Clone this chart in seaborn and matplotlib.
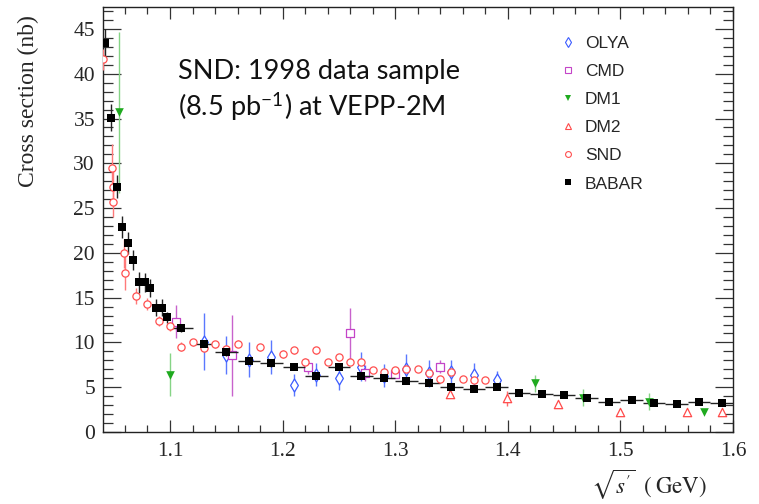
import numpy as np
import pandas as pd
import matplotlib
matplotlib.use("Agg")
import matplotlib.pyplot as plt
from matplotlib.lines import Line2D
from matplotlib.ticker import MultipleLocator
import seaborn as sns

# ---- measurements: e+e- -> pi+pi-pi0 cross section (nb) vs sqrt(s') (GeV) ----
babar_x = [1.0425, 1.0475, 1.0525, 1.0575, 1.0625, 1.0675, 1.0725, 1.0775, 1.0825,
           1.0875, 1.0925, 1.0975, 1.11, 1.13, 1.15, 1.17, 1.19, 1.21, 1.23, 1.25,
           1.27, 1.29, 1.31, 1.33, 1.35, 1.37, 1.39, 1.41, 1.43, 1.45, 1.47, 1.49,
           1.51, 1.53, 1.55, 1.57, 1.59]
babar_y = [43.4, 35.1, 27.4, 22.9, 21.1, 19.2, 16.7, 16.7, 16.1, 13.9, 13.9, 12.8,
           11.6, 9.85, 8.9, 7.95, 7.65, 7.3, 6.3, 7.3, 6.25, 6.0, 5.7, 5.5, 5.0,
           4.75, 5.0, 4.3, 4.2, 4.1, 3.75, 3.4, 3.55, 3.2, 3.1, 3.3, 3.2]
babar_yerr = [1.6, 1.5, 1.3, 1.25, 1.2, 1.1, 1.2, 1.1, 1.0, 0.9, 0.9, 0.65, 0.45,
              0.45, 0.4, 0.4, 0.35, 0.35, 0.35, 0.35, 0.3, 0.3, 0.3, 0.3, 0.25,
              0.25, 0.25, 0.2, 0.2, 0.2, 0.2, 0.2, 0.2, 0.2, 0.2, 0.2, 0.2]
babar_xerr = [0.0025] * 12 + [0.01] * 25

snd_x = [1.0405, 1.0485, 1.049, 1.0495, 1.0595, 1.0598, 1.07, 1.08, 1.09, 1.10,
         1.11, 1.12, 1.13, 1.14, 1.15, 1.16, 1.18, 1.20, 1.21, 1.22, 1.23, 1.24,
         1.25, 1.26, 1.27, 1.28, 1.29, 1.30, 1.31, 1.32, 1.33, 1.34, 1.35, 1.36,
         1.37, 1.38]
snd_y = [41.6, 29.5, 27.4, 25.7, 19.95, 17.7, 15.2, 14.3, 12.4, 11.8, 9.5, 10.0,
         9.4, 9.8, 9.25, 9.85, 9.45, 8.7, 9.1, 7.85, 9.1, 7.8, 8.35, 7.8, 7.85,
         6.95, 6.65, 6.95, 7.05, 7.0, 6.55, 5.95, 6.65, 5.95, 5.8, 5.8]
snd_yerr = [1.2, 2.6, 2.0, 1.7, 1.6, 1.9, 0.9, 0.7, 0.6, 0.5, 0.5, 0.4, 0.4, 0.4,
            0.4, 0.4, 0.4, 0.4, 0.4, 0.4, 0.4, 0.35, 0.35, 0.35, 0.35, 0.3, 0.3,
            0.3, 0.3, 0.3, 0.3, 0.3, 0.3, 0.3, 0.3, 0.3]

olya_x = [1.13, 1.15, 1.17, 1.19, 1.21, 1.23, 1.25, 1.27, 1.29, 1.31, 1.33, 1.35,
          1.37, 1.39]
olya_y = [10.1, 8.6, 8.05, 8.35, 5.25, 6.4, 6.05, 7.3, 6.3, 7.05, 6.55, 6.65, 6.35,
          5.85]
olya_yerr = [3.2, 2.1, 1.95, 1.9, 1.2, 1.3, 1.4, 1.6, 1.3, 1.7, 1.5, 1.4, 1.3, 1.0]

cmd_x = [1.105, 1.155, 1.2225, 1.26, 1.273, 1.30, 1.34]
cmd_y = [12.3, 8.55, 7.3, 11.0, 6.55, 6.5, 7.3]
cmd_yerr = [1.85, 4.5, 0.8, 2.9, 0.9, 0.5, 0.75]

dm1_x = [1.055, 1.0996, 1.424, 1.467, 1.525, 1.574]
dm1_y = [35.7, 6.4, 5.45, 3.8, 3.4, 2.2]
dm1_yerr = [9.0, 2.4, 0.93, 0.95, 0.9, 0.0]

dm2_x = [1.349, 1.399, 1.445, 1.4996, 1.5594, 1.59]
dm2_y = [4.2, 3.75, 3.15, 2.25, 2.2, 2.2]
dm2_yerr = [0.4, 0.85, 0.3, 0.3, 0.3, 0.3]

legend_labels = ["OLYA", "CMD", "DM1", "DM2", "SND", "BABAR"]

# ---- style ----
sns.set_style("ticks")
plt.rcParams["font.family"] = ["Liberation Serif", "DejaVu Serif"]
plt.rcParams["mathtext.fontset"] = "stix"

C_OLYA, C_OLYA_E = "#3b5bff", "#5a78ff"
C_CMD, C_CMD_E = "#c444c8", "#c862cc"
C_DM1, C_DM1_E = "#1faa1f", "#86d486"
C_DM2, C_DM2_E = "#ff4a4a", "#ff6a6a"
C_SND, C_SND_E = "#ff4f4f", "#ff7a7a"
C_BAB, C_BAB_E = "#000000", "#222222"

fig = plt.figure(figsize=(7.59, 5.04), dpi=100)
ax = fig.add_axes([103 / 759, 72 / 504, 630 / 759, 425 / 504])


def draw(xs, ys, yerr, marker, size, face, edge, ecolor, z, xerr=None, lw=0.9):
    df = pd.DataFrame({"x": xs, "y": ys})
    ax.errorbar(xs, ys, yerr=yerr, xerr=xerr, fmt="none", ecolor=ecolor,
                elinewidth=1.0, capsize=0, zorder=z)
    sns.scatterplot(data=df, x="x", y="y", marker=marker, s=size ** 2,
                    color=edge, facecolors=face, edgecolor=edge,
                    linewidth=lw, ax=ax, zorder=z + 0.5, legend=False)


draw(olya_x, olya_y, olya_yerr, "d", 6.6, "white", C_OLYA, C_OLYA_E, 2)
draw(cmd_x, cmd_y, cmd_yerr, "s", 5.2, "white", C_CMD, C_CMD_E, 2.2)
draw(dm2_x, dm2_y, dm2_yerr, "^", 6.0, "white", C_DM2, C_DM2_E, 2.4)
draw(snd_x, snd_y, snd_yerr, "o", 5.2, "white", C_SND, C_SND_E, 2.6)
draw(dm1_x, dm1_y, dm1_yerr, "v", 6.2, C_DM1, C_DM1, C_DM1_E, 2.8, lw=0)
draw(babar_x, babar_y, babar_yerr, "s", 5.2, C_BAB, C_BAB, C_BAB_E, 3,
     xerr=babar_xerr, lw=0)

ax.set_xlim(1.0405, 1.6)
ax.set_ylim(0, 47.45)
ax.xaxis.set_major_locator(MultipleLocator(0.1))
ax.xaxis.set_minor_locator(MultipleLocator(0.02))
ax.yaxis.set_major_locator(MultipleLocator(5))
ax.yaxis.set_minor_locator(MultipleLocator(1))
ax.xaxis.set_major_formatter(matplotlib.ticker.FormatStrFormatter("%.1f"))
ax.set_xlabel("")
ax.set_ylabel("")

for s in ax.spines.values():
    s.set_visible(True)
    s.set_linewidth(1.0)
    s.set_color("#222222")

ax.tick_params(axis="both", which="both", direction="in", top=True, right=True,
               color="#333333", width=0.9)
ax.tick_params(axis="x", which="major", length=8.6, pad=7, labelsize=15.5)
ax.tick_params(axis="x", which="minor", length=5)
ax.tick_params(axis="y", which="major", length=13, pad=5.8, labelsize=15.5)
ax.tick_params(axis="y", which="minor", length=7)

fig.text(28 / 759, 1 - 15 / 504, "Cross section (nb)", rotation=90,
         ha="center", va="top", fontsize=17)
fig.text(707 / 759, 1 - 494 / 504, r"$\sqrt{s'}\;\;(\;\mathrm{GeV})$",
         ha="right", va="baseline", fontsize=16.5)

# annotation
ax.text(178 / 759, 1 - 79 / 504, "SND: 1998 data sample", transform=fig.transFigure,
        fontsize=19.5, family="Lato", ha="left", va="baseline", color="#111111")
ax.text(178 / 759, 1 - 116 / 504, r"(8.5 pb$^{\mathregular{-1}}$) at VEPP-2M",
        transform=fig.transFigure, fontsize=19.5, family="Lato", ha="left",
        va="baseline", color="#111111")

# legend
handles = [
    Line2D([], [], ls="none", marker="d", ms=5.0, mfc="white", mec=C_OLYA, mew=0.8),
    Line2D([], [], ls="none", marker="s", ms=4.0, mfc="white", mec=C_CMD, mew=0.8),
    Line2D([], [], ls="none", marker="v", ms=4.6, mfc=C_DM1, mec=C_DM1, mew=0),
    Line2D([], [], ls="none", marker="^", ms=4.6, mfc="white", mec=C_DM2, mew=0.8),
    Line2D([], [], ls="none", marker="o", ms=4.2, mfc="white", mec=C_SND, mew=0.8),
    Line2D([], [], ls="none", marker="s", ms=4.0, mfc=C_BAB, mec=C_BAB, mew=0),
]
ax.legend(handles, legend_labels, loc="upper left",
          bbox_to_anchor=(561 / 759, 1 - 35.5 / 504),
          bbox_transform=fig.transFigure, frameon=False,
          prop={"family": "Liberation Sans", "size": 12.5}, handlelength=0.8,
          handletextpad=0.58, labelspacing=0.75, borderpad=0, borderaxespad=0)

fig.savefig("out.png", dpi=100)
